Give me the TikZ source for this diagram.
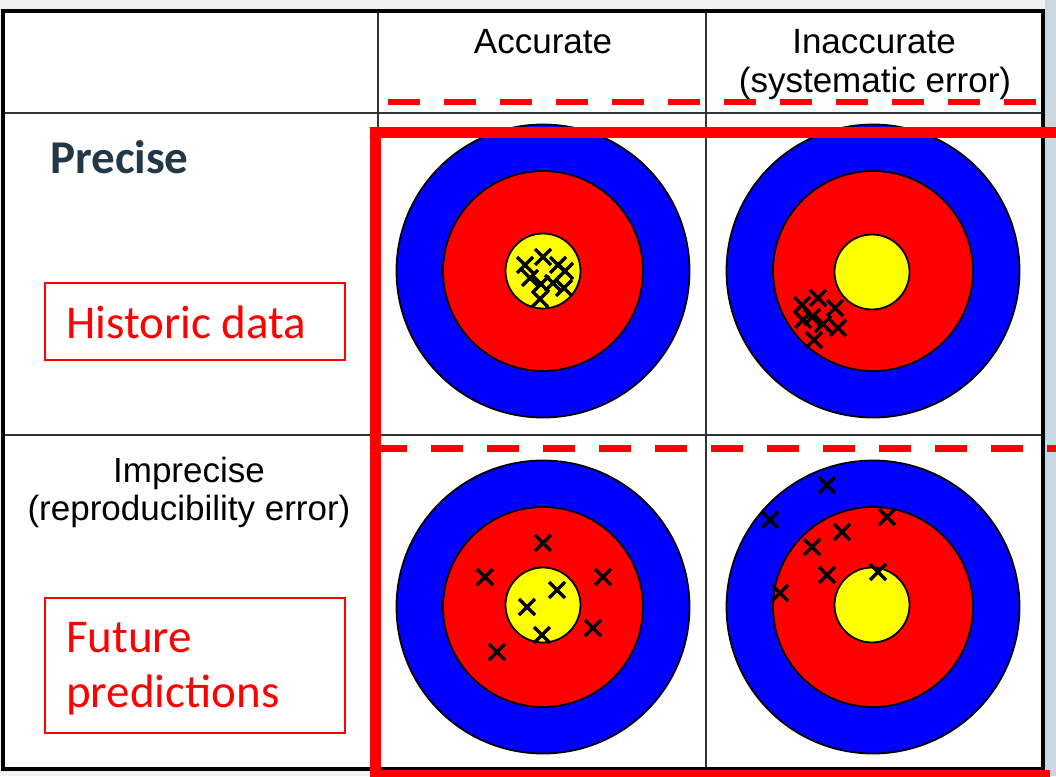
\documentclass[tikz,border=0pt]{standalone}
\usepackage{fontspec}
\newfontfamily\arialf{Liberation Sans}
\newfontfamily\calf{Carlito}
\definecolor{bgtint}{HTML}{EEF2F5}
\definecolor{bgright}{HTML}{C9D7E3}
\definecolor{slate}{HTML}{243746}
\definecolor{tblue}{HTML}{0000FF}
\definecolor{tred}{HTML}{FF0000}
\definecolor{tyellow}{HTML}{FFFF00}
\tikzset{
  gridline/.style={draw=black!80, line width=2pt},
  outerline/.style={draw=black, line width=4pt},
  ring/.style={draw=black, line width=1.8pt},
  hit/.style={draw=black, line width=3.4pt},
  hdr/.style={font=\arialf\fontsize{35}{40}\selectfont, inner sep=0pt, anchor=base},
  redbox/.style={draw=tred, line width=1.5pt},
  redtxt/.style={font=\calf\fontsize{47}{55}\selectfont, text=tred, inner sep=0pt, anchor=base west},
  dashred/.style={draw=tred, dash pattern=on 32pt off 24pt},
  solidred/.style={draw=tred, line width=11pt},
}
\newcommand{\mytarget}[4]{% name, center, yellow center
  \fill[tblue] #2 circle (146.5);
  \draw[ring] #2 circle (146.5);
  \fill[tred] #2 circle (100);
  \draw[ring] #2 circle (100);
  \fill[tyellow] #3 circle (37.5);
  \draw[ring] #3 circle (37.5);
  \foreach \p in {#4} \draw[hit] \p +(-8,-8) -- +(8,8) +(-8,8) -- +(8,-8);
}
\begin{document}
\begin{tikzpicture}[x=1pt,y=-1pt]
\useasboundingbox (0,0) rectangle (1056,776);
\fill[bgtint] (0,0) rectangle (1056,776);
\fill[bgright] (1045,0) rectangle (1056,776);
\fill[white] (3,11) rectangle (1043,769);

% targets
\mytarget{tl}{(543,271)}{(543,271)}{(525,265),(543,257),(558,265),(565,271),(530,278),(541,284),(553,283),(564,288),(540,299)}
\mytarget{tr}{(873,271)}{(872,272)}{(802,305),(818,298),(835,308),(803,320),(812,317),(823,324),(838,328),(814,340)}
\mytarget{bl}{(543,607)}{(543,605)}{(543,543),(485,577),(603,577),(557,590),(527,607),(593,628),(542,635),(497,652)}
\mytarget{br}{(873,607)}{(872,605)}{(827,485),(770,520),(842,532),(887,517),(812,547),(827,575),(878,572),(780,593)}

% grid
\draw[gridline] (3,113) -- (1043,113);
\draw[gridline] (3,435) -- (1043,435);
\draw[gridline] (378,11) -- (378,769);
\draw[gridline] (706,11) -- (706,769);
\draw[outerline] (3,11) rectangle (1043,769);

% headers
\node[hdr] (acc) at (543,53) {Accurate};
\node[hdr] (inacc1) at (874,53) {Inaccurate};
\node[hdr] (inacc2) at (875,92) {(systematic error)};
\node[hdr] (imp1) at (189,482) {Imprecise};
\node[hdr] (imp2) at (189,520) {(reproducibility error)};
\node[font=\calf\bfseries\fontsize{47}{55}\selectfont, text=slate, inner sep=0pt, anchor=base west] (prec) at (50,173) {Precise};

% red annotation boxes
\draw[redbox] (45,283) rectangle (345,360);
\node[redtxt] (hist) at (66,338) {Historic data};
\draw[redbox] (45,598) rectangle (345,733);
\node[redtxt] (fut1) at (66,652) {Future};
\node[redtxt] (fut2) at (66,707) {predictions};

% red overlay
\draw[dashred, line width=6pt] (388,102) -- (1056,102);
\draw[dashred, line width=7pt] (375,448) -- (1060,448);
\draw[solidred] (1060,132) -- (375,132) -- (375,780);
\draw[tred, line width=7pt] (370,773) -- (1050,773);
\end{tikzpicture}
\end{document}
